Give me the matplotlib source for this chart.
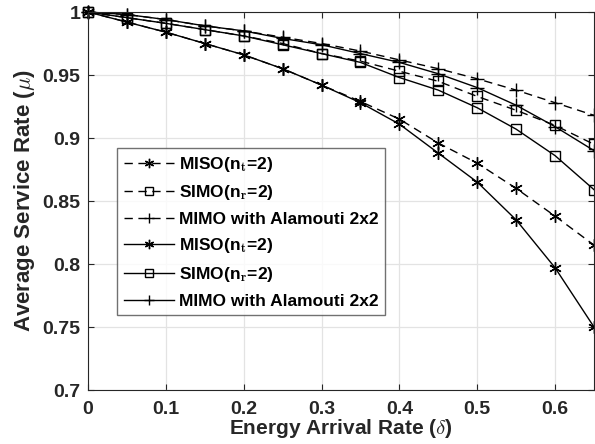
import matplotlib
matplotlib.use("Agg")
import matplotlib.pyplot as plt

plt.rcParams["font.family"] = ["Liberation Sans", "DejaVu Sans"]
plt.rcParams["mathtext.fontset"] = "cm"

# energy arrival rate
delta = [0.0, 0.05, 0.10, 0.15, 0.20, 0.25, 0.30, 0.35, 0.40, 0.45, 0.50, 0.55, 0.60, 0.65]

# dashed curves
miso_dash = [1.0, 0.992, 0.984, 0.975, 0.966, 0.955, 0.942, 0.929, 0.915, 0.896, 0.880, 0.860, 0.838, 0.815]
simo_dash = [1.0, 0.9955, 0.991, 0.986, 0.981, 0.975, 0.967, 0.961, 0.953, 0.945, 0.933, 0.922, 0.910, 0.895]
mimo_dash = [1.0, 0.998, 0.994, 0.989, 0.985, 0.980, 0.975, 0.969, 0.962, 0.955, 0.947, 0.938, 0.928, 0.918]

# solid curves
miso_solid = [1.0, 0.992, 0.984, 0.975, 0.966, 0.955, 0.942, 0.928, 0.911, 0.888, 0.865, 0.835, 0.797, 0.750]
simo_solid = [1.0, 0.9955, 0.991, 0.986, 0.981, 0.974, 0.967, 0.960, 0.948, 0.938, 0.924, 0.907, 0.886, 0.859]
mimo_solid = [1.0, 0.998, 0.994, 0.989, 0.985, 0.979, 0.974, 0.967, 0.960, 0.951, 0.940, 0.926, 0.909, 0.890]

labels = ["MISO(n$_\\mathbf{t}$=2)", "SIMO(n$_\\mathbf{r}$=2)", "MIMO with Alamouti 2x2"]

xticks = [0, 0.1, 0.2, 0.3, 0.4, 0.5, 0.6]
xticklabels = ["0", "0.1", "0.2", "0.3", "0.4", "0.5", "0.6"]
yticks = [0.7, 0.75, 0.8, 0.85, 0.9, 0.95, 1.0]
yticklabels = ["0.7", "0.75", "0.8", "0.85", "0.9", "0.95", "1"]

star = (6, 2, 0)
dash = (0, (6, 4))
dark = "#262626"

fig = plt.figure(figsize=(5.95, 4.44), dpi=100)
ax = fig.add_axes([88 / 595, 54 / 444, 506 / 595, 378 / 444])

series = [
    (miso_dash, star, 9, dash, labels[0]),
    (simo_dash, "s", 7, dash, labels[1]),
    (mimo_dash, "+", 10, dash, labels[2]),
    (miso_solid, star, 9, "-", labels[0]),
    (simo_solid, "s", 7, "-", labels[1]),
    (mimo_solid, "+", 10, "-", labels[2]),
]
for ys, mk, ms, ls, lab in series:
    ax.plot(
        delta, ys,
        color="black",
        linewidth=1.0,
        linestyle=ls,
        marker=mk,
        markersize=ms,
        markerfacecolor="none",
        markeredgecolor="black",
        markeredgewidth=1.0,
        label=lab,
        clip_on=False,
    )

ax.set_xlim(0, 0.65)
ax.set_ylim(0.7, 1.0)
ax.set_xticks(xticks)
ax.set_xticklabels(xticklabels)
ax.set_yticks(yticks)
ax.set_yticklabels(yticklabels)
ax.grid(True, color="#e3e3e3", linewidth=0.9)
ax.set_axisbelow(True)

ax.tick_params(direction="in", length=4, width=0.8, colors=dark,
               top=True, right=True, labelsize=14)
ax.tick_params(axis="x", pad=8)
ax.tick_params(axis="y", pad=5.5)
for lab in ax.get_xticklabels() + ax.get_yticklabels():
    lab.set_fontweight("bold")
for sp in ax.spines.values():
    sp.set_color(dark)
    sp.set_linewidth(0.8)

ax.set_xlabel("Energy Arrival Rate ($\\delta$)", fontsize=15, fontweight="bold",
              color=dark, labelpad=-0.5)
ax.set_ylabel("Average Service Rate ($\\mu$)", fontsize=16, fontweight="bold",
              color=dark, labelpad=4)

leg = ax.legend(
    loc="upper left",
    bbox_to_anchor=((117 - 88) / 506, (390 - 148) / 378),
    borderaxespad=0,
    prop={"weight": "bold", "size": 12.5},
    frameon=True,
    fancybox=False,
    handlelength=2.9,
    labelspacing=0.55,
    borderpad=0.38,
    handletextpad=0.3,
)
leg.get_frame().set_edgecolor("#4d4d4d")
leg.get_frame().set_linewidth(1.0)
for h in leg.legend_handles:
    h.set_markersize(h.get_markersize() * 0.75)

plt.savefig("out.png", dpi=100)
plt.close()
